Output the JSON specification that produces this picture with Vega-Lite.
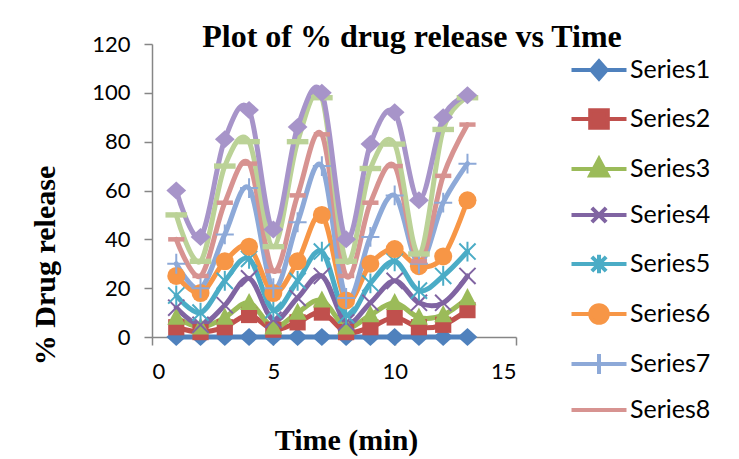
{
  "$schema": "https://vega.github.io/schema/vega-lite/v6.json",
  "width": 364,
  "height": 293,
  "autosize": {"type": "none"},
  "padding": {"left": 152, "top": 44, "right": 223, "bottom": 122},
  "background": "white",
  "config": {
    "view": {"stroke": null},
    "axis": {
      "grid": false,
      "domainColor": "#868686",
      "domainWidth": 1.5,
      "tickColor": "#868686",
      "tickWidth": 1.5,
      "tickSize": 8,
      "labelFont": "Lato",
      "labelFontSize": 22,
      "labelColor": "#000000",
      "titleFont": "Liberation Serif",
      "titleFontSize": 30,
      "titleFontWeight": "bold",
      "titleColor": "#000000"
    }
  },
  "title": {
    "text": "Plot of % drug release vs Time",
    "font": "Liberation Serif",
    "fontSize": 32,
    "fontWeight": "bold",
    "color": "#000000",
    "anchor": "middle",
    "frame": "group",
    "baseline": "alphabetic",
    "offset": 0,
    "dx": 78,
    "dy": 46
  },
  "data": {"values": [
    {"t":1,"s":"Series1","v":0},{"t":2,"s":"Series1","v":0},{"t":3,"s":"Series1","v":0},{"t":4,"s":"Series1","v":0},{"t":5,"s":"Series1","v":0},{"t":6,"s":"Series1","v":0},{"t":7,"s":"Series1","v":0},{"t":8,"s":"Series1","v":0},{"t":9,"s":"Series1","v":0},{"t":10,"s":"Series1","v":0},{"t":11,"s":"Series1","v":0},{"t":12,"s":"Series1","v":0},{"t":13,"s":"Series1","v":0},
    {"t":1,"s":"Series2","v":4},{"t":2,"s":"Series2","v":2},{"t":3,"s":"Series2","v":4},{"t":4,"s":"Series2","v":9},{"t":5,"s":"Series2","v":3},{"t":6,"s":"Series2","v":6},{"t":7,"s":"Series2","v":10},{"t":8,"s":"Series2","v":2},{"t":9,"s":"Series2","v":4},{"t":10,"s":"Series2","v":8},{"t":11,"s":"Series2","v":4},{"t":12,"s":"Series2","v":5},{"t":13,"s":"Series2","v":11},
    {"t":1,"s":"Series3","v":8},{"t":2,"s":"Series3","v":4},{"t":3,"s":"Series3","v":8},{"t":4,"s":"Series3","v":14},{"t":5,"s":"Series3","v":4},{"t":6,"s":"Series3","v":10},{"t":7,"s":"Series3","v":15},{"t":8,"s":"Series3","v":4},{"t":9,"s":"Series3","v":9},{"t":10,"s":"Series3","v":14},{"t":11,"s":"Series3","v":8},{"t":12,"s":"Series3","v":9},{"t":13,"s":"Series3","v":16},
    {"t":1,"s":"Series4","v":12},{"t":2,"s":"Series4","v":5},{"t":3,"s":"Series4","v":13},{"t":4,"s":"Series4","v":24},{"t":5,"s":"Series4","v":7},{"t":6,"s":"Series4","v":16},{"t":7,"s":"Series4","v":25},{"t":8,"s":"Series4","v":6},{"t":9,"s":"Series4","v":14},{"t":10,"s":"Series4","v":23},{"t":11,"s":"Series4","v":14},{"t":12,"s":"Series4","v":14},{"t":13,"s":"Series4","v":25},
    {"t":1,"s":"Series5","v":17},{"t":2,"s":"Series5","v":10},{"t":3,"s":"Series5","v":23},{"t":4,"s":"Series5","v":32},{"t":5,"s":"Series5","v":11},{"t":6,"s":"Series5","v":23},{"t":7,"s":"Series5","v":35},{"t":8,"s":"Series5","v":9},{"t":9,"s":"Series5","v":22},{"t":10,"s":"Series5","v":31},{"t":11,"s":"Series5","v":19},{"t":12,"s":"Series5","v":25},{"t":13,"s":"Series5","v":35},
    {"t":1,"s":"Series6","v":25},{"t":2,"s":"Series6","v":18},{"t":3,"s":"Series6","v":31},{"t":4,"s":"Series6","v":37},{"t":5,"s":"Series6","v":18},{"t":6,"s":"Series6","v":31},{"t":7,"s":"Series6","v":50},{"t":8,"s":"Series6","v":15},{"t":9,"s":"Series6","v":30},{"t":10,"s":"Series6","v":36},{"t":11,"s":"Series6","v":29},{"t":12,"s":"Series6","v":33},{"t":13,"s":"Series6","v":56},
    {"t":1,"s":"Series7","v":30},{"t":2,"s":"Series7","v":20},{"t":3,"s":"Series7","v":42},{"t":4,"s":"Series7","v":61},{"t":5,"s":"Series7","v":20},{"t":6,"s":"Series7","v":47},{"t":7,"s":"Series7","v":70},{"t":8,"s":"Series7","v":16},{"t":9,"s":"Series7","v":41},{"t":10,"s":"Series7","v":58},{"t":11,"s":"Series7","v":30},{"t":12,"s":"Series7","v":55},{"t":13,"s":"Series7","v":71},
    {"t":1,"s":"Series8","v":40},{"t":2,"s":"Series8","v":25},{"t":3,"s":"Series8","v":55},{"t":4,"s":"Series8","v":71},{"t":5,"s":"Series8","v":27},{"t":6,"s":"Series8","v":58},{"t":7,"s":"Series8","v":83},{"t":8,"s":"Series8","v":25},{"t":9,"s":"Series8","v":55},{"t":10,"s":"Series8","v":70},{"t":11,"s":"Series8","v":31},{"t":12,"s":"Series8","v":66},{"t":13,"s":"Series8","v":87},
    {"t":1,"s":"Series9","v":50},{"t":2,"s":"Series9","v":31},{"t":3,"s":"Series9","v":70},{"t":4,"s":"Series9","v":80},{"t":5,"s":"Series9","v":37},{"t":6,"s":"Series9","v":80},{"t":7,"s":"Series9","v":98},{"t":8,"s":"Series9","v":31},{"t":9,"s":"Series9","v":69},{"t":10,"s":"Series9","v":79},{"t":11,"s":"Series9","v":34},{"t":12,"s":"Series9","v":85},{"t":13,"s":"Series9","v":98},
    {"t":1,"s":"Series10","v":60},{"t":2,"s":"Series10","v":41},{"t":3,"s":"Series10","v":81},{"t":4,"s":"Series10","v":93},{"t":5,"s":"Series10","v":44},{"t":6,"s":"Series10","v":86},{"t":7,"s":"Series10","v":100},{"t":8,"s":"Series10","v":40},{"t":9,"s":"Series10","v":79},{"t":10,"s":"Series10","v":92},{"t":11,"s":"Series10","v":56},{"t":12,"s":"Series10","v":90},{"t":13,"s":"Series10","v":99}
  ]},
  "encoding": {
    "x": {
      "field": "t", "type": "quantitative",
      "scale": {"domain": [0, 15], "nice": false, "zero": false},
      "axis": {"values": [0, 5, 10, 15], "title": "Time (min)", "labelPadding": 16, "titleX": 194, "titleY": 103, "titleBaseline": "middle", "titleAnchor": null}
    },
    "y": {
      "field": "v", "type": "quantitative",
      "scale": {"domain": [0, 120], "nice": false},
      "axis": {"values": [0, 20, 40, 60, 80, 100, 120], "title": "% Drug release", "labelPadding": 14, "titleX": -107, "titleY": 221, "titleAngle": -90, "titleBaseline": "middle", "titleAlign": "center"}
    },
    "color": {
      "field": "s", "type": "nominal",
      "scale": {
        "domain": ["Series1","Series2","Series3","Series4","Series5","Series6","Series7","Series8","Series9","Series10"],
        "range": ["#4F81BD","#C0504D","#9BBB59","#8064A2","#4BACC6","#F79646","#8DA9D8","#D79391","#BBD297","#A794C9"]
      },
      "legend": null
    }
  },
  "layer": [
    {
      "transform": [{"filter": "false"}],
      "mark": {"type": "point", "filled": false, "strokeWidth": 4, "size": 484, "opacity": 1},
      "encoding": {
        "color": {
          "field": "s", "type": "nominal",
          "legend": {
            "title": null,
            "orient": "none",
            "legendX": 434,
            "legendY": 13,
            "padding": 0,
            "values": ["Series1","Series2","Series3","Series4","Series5","Series6","Series7","Series8"],
            "symbolSize": 484,
            "symbolStrokeWidth": 4,
            "labelFont": "Lato",
            "labelFontSize": 25,
            "labelColor": "#000000",
            "labelOffset": 18,
            "rowPadding": 15
          }
        },
        "fill": {
          "field": "s", "type": "nominal",
          "scale": {
            "domain": ["Series1","Series2","Series3","Series4","Series5","Series6","Series7","Series8","Series9","Series10"],
            "range": ["#4F81BD","#C0504D","#9BBB59","#8064A2","#4BACC6","#F79646","#8DA9D8","#D79391","#BBD297","#A794C9"]
          }
        },
        "shape": {
          "field": "s", "type": "nominal",
          "scale": {
            "domain": ["Series1","Series2","Series3","Series4","Series5","Series6","Series7","Series8","Series9","Series10"],
            "range": [
              "M-2.5,0H2.5M0,-0.8L0.7,0L0,0.8L-0.7,0Z",
              "M-2.5,0H2.5M-0.8,-0.8H0.8V0.8H-0.8Z",
              "M-2.5,0H2.5M0,-0.9L0.8,0.6L-0.8,0.6Z",
              "M-2.5,0H2.5M-0.65,-0.65L0.65,0.65M-0.65,0.65L0.65,-0.65",
              "M-2.5,0H2.5M-0.65,-0.65L0.65,0.65M-0.65,0.65L0.65,-0.65M0,-0.85V0.85",
              "M-2.5,0H2.5M0.8,0A0.8,0.8,0,1,1,-0.8,0A0.8,0.8,0,1,1,0.8,0Z",
              "M-2.5,0H2.5M0,-0.9V0.9",
              "M-2.5,0H2.5",
              "M-2.5,0H2.5",
              "M-2.5,0H2.5M0,-0.8L0.7,0L0,0.8L-0.7,0Z"
            ]
          }
        }
      }
    },
    {
      "mark": {"type": "line", "interpolate": "cardinal", "strokeWidth": 5, "strokeCap": "round", "strokeJoin": "round"}
    },
    {"transform": [{"filter": "datum.s === 'Series1'"}], "mark": {"type": "point", "filled": true, "size": 324, "opacity": 1, "shape": "M0,-1L1.1,0L0,1L-1.1,0Z"}},
    {"transform": [{"filter": "datum.s === 'Series2'"}], "mark": {"type": "point", "filled": true, "size": 324, "opacity": 1, "shape": "M-0.9,-0.9H0.9V0.9H-0.9Z"}},
    {"transform": [{"filter": "datum.s === 'Series3'"}], "mark": {"type": "point", "filled": true, "size": 324, "opacity": 1, "shape": "M0,-1.1L1,0.8L-1,0.8Z"}},
    {"transform": [{"filter": "datum.s === 'Series4'"}], "mark": {"type": "point", "filled": false, "size": 324, "opacity": 1, "strokeWidth": 2, "shape": "M-0.9,-0.9L0.9,0.9M-0.9,0.9L0.9,-0.9"}},
    {"transform": [{"filter": "datum.s === 'Series5'"}], "mark": {"type": "point", "filled": false, "size": 324, "opacity": 1, "strokeWidth": 2, "shape": "M-0.9,-0.9L0.9,0.9M-0.9,0.9L0.9,-0.9M0,-1.1V1.1"}},
    {"transform": [{"filter": "datum.s === 'Series6'"}], "mark": {"type": "point", "filled": true, "size": 324, "opacity": 1, "shape": "circle"}},
    {"transform": [{"filter": "datum.s === 'Series7'"}], "mark": {"type": "point", "filled": false, "size": 324, "opacity": 1, "strokeWidth": 2, "shape": "M-1,0H1M0,-1.1V1.1"}},
    {"transform": [{"filter": "datum.s === 'Series8'"}], "mark": {"type": "point", "filled": true, "size": 324, "opacity": 1, "shape": "M-0.9,-0.25H0.9V0.25H-0.9Z"}},
    {"transform": [{"filter": "datum.s === 'Series9'"}], "mark": {"type": "point", "filled": true, "size": 324, "opacity": 1, "shape": "M-1.2,-0.3H1.2V0.3H-1.2Z"}},
    {"transform": [{"filter": "datum.s === 'Series10'"}], "mark": {"type": "point", "filled": true, "size": 324, "opacity": 1, "shape": "M0,-1L1.1,0L0,1L-1.1,0Z"}}
  ]
}
